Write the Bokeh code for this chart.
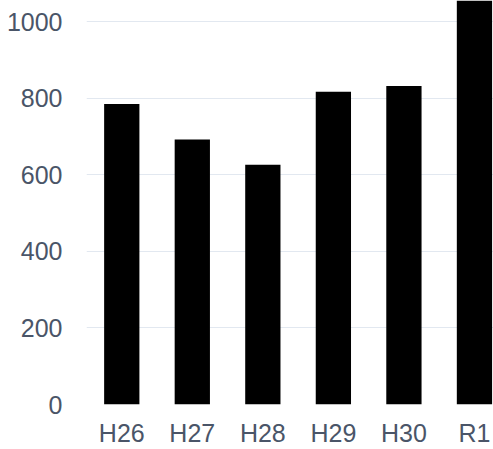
from bokeh.plotting import figure
from bokeh.models import Range1d, FixedTicker
from bokeh.embed import file_html
from bokeh.resources import INLINE

categories = ["H26", "H27", "H28", "H29", "H30", "R1"]
values = [785, 692, 626, 817, 832, 1080]
y_ticks = [0, 200, 400, 600, 800, 1000]

xs = list(range(len(categories)))

p = figure(width=493, height=449, output_backend="svg", toolbar_location=None,
           x_range=Range1d(-0.5, 5.27), y_range=Range1d(0, 1055),
           min_border_left=86, min_border_right=0, min_border_top=0, min_border_bottom=45)

p.vbar(x=xs, top=values, width=0.5, bottom=0, fill_color="black", line_color=None)

p.outline_line_color = None
p.background_fill_color = "white"
p.border_fill_color = "white"

p.xgrid.grid_line_color = None
p.ygrid.grid_line_color = "#e2e8f0"
p.ygrid.grid_line_width = 1
p.ygrid.ticker = FixedTicker(ticks=y_ticks)

p.yaxis.ticker = FixedTicker(ticks=y_ticks)
p.xaxis.ticker = FixedTicker(ticks=xs)
p.xaxis.major_label_overrides = {i: c for i, c in enumerate(categories)}

for ax in (p.xaxis[0], p.yaxis[0]):
    ax.axis_line_color = None
    ax.major_tick_line_color = None
    ax.minor_tick_line_color = None
    ax.major_tick_in = 0
    ax.major_tick_out = 0
    ax.minor_tick_out = 0
    ax.major_label_text_font = "Liberation Sans"
    ax.major_label_text_font_size = "25px"
    ax.major_label_text_color = "#4a5568"

p.xaxis.major_label_standoff = 14
p.yaxis.major_label_standoff = 24

open("out.html", "w").write(file_html(p, INLINE))
